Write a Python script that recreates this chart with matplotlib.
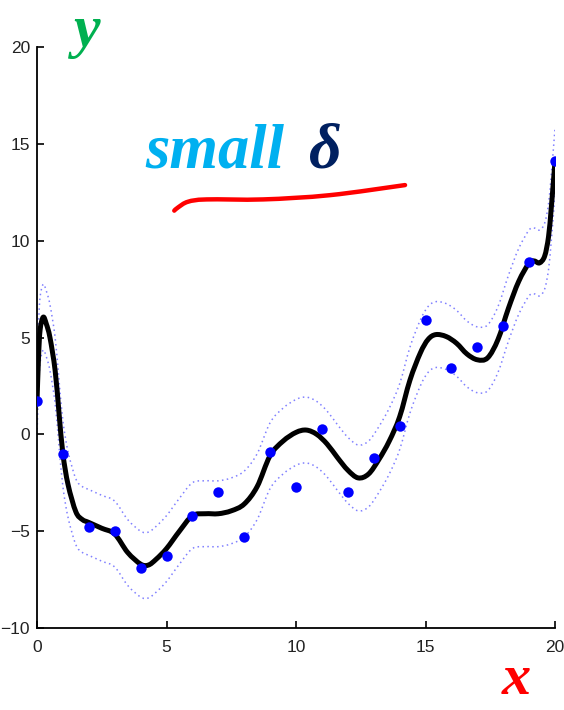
import matplotlib
matplotlib.use("Agg")
import matplotlib.pyplot as plt
from matplotlib.path import Path
from matplotlib.patches import PathPatch

# observed data points
obs_x = list(range(21))
obs_y = [1.7, -1.0, -4.8, -5.0, -6.9, -6.3, -4.2, -3.0, -5.3, -0.9, -2.7,
         0.3, -3.0, -1.2, 0.45, 5.9, 3.4, 4.5, 5.6, 8.9, 14.1]

# posterior mean curve
mean_x = [0, 0.06, 0.12, 0.24, 0.36, 0.5, 0.7, 0.85, 1.0, 1.2, 1.5, 1.75, 2.0,
          2.5, 3.0, 3.5, 4.0, 4.3, 4.6, 5.0, 5.5, 6.0, 6.5, 7.0, 7.5, 8.0,
          8.5, 9.0, 9.5, 10.0, 10.4, 10.8, 11.2, 11.6, 12.0, 12.4, 12.8,
          13.2, 13.6, 14.0, 14.4, 14.8, 15.1, 15.4, 15.8, 16.2, 16.6, 17.0,
          17.4, 17.8, 18.2, 18.6, 19.0, 19.2, 19.4, 19.6, 19.75, 19.85,
          19.93, 20.0]
mean_y = [1.7, 4.0, 5.4, 6.05, 5.7, 5.0, 3.3, 1.1, -1.0, -2.6, -4.0, -4.4,
          -4.55, -4.85, -5.15, -6.1, -6.7, -6.75, -6.45, -5.9, -5.0, -4.2,
          -4.1, -4.1, -3.95, -3.6, -2.7, -1.1, -0.35, 0.1, 0.22, 0.0, -0.5,
          -1.2, -1.85, -2.25, -2.05, -1.3, -0.35, 0.9, 2.8, 4.2, 4.9, 5.15,
          5.05, 4.7, 4.15, 3.85, 3.95, 4.9, 6.5, 7.9, 8.85, 8.95, 8.85, 9.2,
          10.2, 11.6, 12.9, 14.1]
band_halfwidth = 1.7

# hand-drawn underline stroke (data coords)
stroke_x = [5.3, 5.45, 5.83, 6.55, 8.73, 11.31, 14.21]
stroke_y = [11.55, 11.72, 12.01, 12.13, 12.13, 12.35, 12.87]

x_ticks = [0, 5, 10, 15, 20]
y_ticks = [-10, -5, 0, 5, 10, 15, 20]


def smooth_path(xs, ys):
    """Catmull-Rom curve through the given points, as cubic Bezier path."""
    pts = list(zip(xs, ys))
    n = len(pts)
    verts = [pts[0]]
    codes = [Path.MOVETO]
    for i in range(n - 1):
        p0 = pts[max(i - 1, 0)]
        p1 = pts[i]
        p2 = pts[i + 1]
        p3 = pts[min(i + 2, n - 1)]
        c1 = (p1[0] + (p2[0] - p0[0]) / 6, p1[1] + (p2[1] - p0[1]) / 6)
        c2 = (p2[0] - (p3[0] - p1[0]) / 6, p2[1] - (p3[1] - p1[1]) / 6)
        verts += [c1, c2, p2]
        codes += [Path.CURVE4] * 3
    return Path(verts, codes)


W, H = 564, 710
fig = plt.figure(figsize=(W / 100, H / 100), dpi=100)
ax = fig.add_axes([37 / W, 1 - 628 / H, (555 - 37) / W, (628 - 47) / H])

upper = [m + band_halfwidth for m in mean_y]
lower = [m - band_halfwidth for m in mean_y]
for band in (upper, lower):
    ax.add_patch(PathPatch(smooth_path(mean_x, band), fill=False,
                           edgecolor="#8080ff", lw=1.1,
                           linestyle=(0, (1, 2.2))))
ax.add_patch(PathPatch(smooth_path(mean_x, mean_y), fill=False,
                       edgecolor="black", lw=3.6, joinstyle="round",
                       capstyle="round"))
ax.plot(obs_x, obs_y, "o", color="#0000ff", ms=7.5, mec="none", zorder=3)
ax.add_patch(PathPatch(smooth_path(stroke_x, stroke_y), fill=False,
                       edgecolor="#ff0000", lw=3.2, capstyle="round",
                       joinstyle="round"))

ax.set_xlim(0, 20)
ax.set_ylim(-10, 20)
ax.set_xticks(x_ticks)
ax.set_yticks(y_ticks)
for s in ["top", "right"]:
    ax.spines[s].set_visible(False)
for s in ["left", "bottom"]:
    ax.spines[s].set_linewidth(1.3)
ax.tick_params(direction="in", length=5, width=1.2, labelsize=12.5,
               labelcolor="#222222")
ax.tick_params(axis="x", pad=9)
ax.tick_params(axis="y", pad=5)
for lab in ax.get_xticklabels() + ax.get_yticklabels():
    lab.set_family("Liberation Sans")

serif = dict(family="Liberation Serif", weight="bold", style="italic")
fig.text(74 / W, 1 - 46 / H, "y", color="#00b050", fontsize=43,
         va="baseline", ha="left", **serif)
fig.text(502 / W, 1 - 694 / H, "x", color="#ff0000", fontsize=42,
         va="baseline", ha="left", **serif)
fig.text(145 / W, 1 - 168 / H, "small", color="#00b0f0", fontsize=45,
         va="baseline", ha="left", **serif)
fig.text(309 / W, 1 - 168 / H, "δ", color="#002060", fontsize=46,
         va="baseline", ha="left", **serif)

fig.savefig("out.png", dpi=100)
